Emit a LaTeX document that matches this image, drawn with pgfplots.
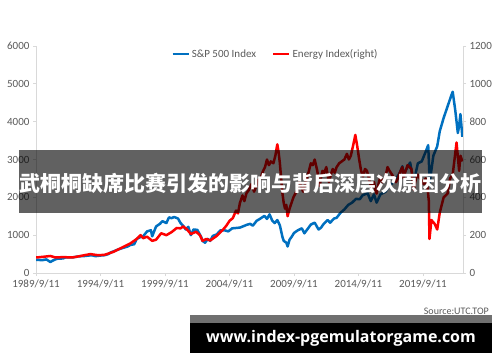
\documentclass[border=0pt]{standalone}
\usepackage{pgfplots}
\pgfplotsset{compat=1.18}
\usepackage{fontspec}
\setmainfont{Carlito}
\newfontfamily\cjk{Noto Sans CJK SC}
\newfontfamily\urlfont{Open Sans}
\definecolor{spblue}{RGB}{0,112,192}
\definecolor{enred}{RGB}{255,0,0}
\definecolor{axgray}{RGB}{217,217,217}
\definecolor{lblgray}{RGB}{89,89,89}
\definecolor{bargray}{RGB}{112,112,112}
\begin{document}
\begin{tikzpicture}[x=1pt,y=1pt]
\path[use as bounding box] (0,0) rectangle (500,362);
\pgfplotsset{mybase/.style={scale only axis, width=427pt, height=227pt,
  at={(36pt,89pt)}, anchor=south west, xmin=1989.69, xmax=2022.8, ymin=0,
  tick label style={font=\fontsize{11}{13}\selectfont, text=lblgray},
  /pgf/number format/assume math mode=true, /pgf/number format/1000 sep={},
  axis line style={axgray, line width=0.8pt}, tick style={axgray, line width=0.8pt},
  major tick length=3pt, tick align=outside}}
\begin{axis}[mybase, axis x line*=bottom, axis y line*=left, ymax=6000,
  ytick={0,1000,2000,3000,4000,5000,6000},
  xtick={1989.693,1994.693,1999.693,2004.693,2009.693,2014.693,2019.693},
  xticklabels={1989/9/11,1994/9/11,1999/9/11,2004/9/11,2009/9/11,2014/9/11,2019/9/11}]
\addplot[spblue, line width=2.5pt, line join=round] table {
1989.7 350
1989.9 345
1990.2 340
1990.5 360
1990.8 290
1991.0 330
1991.3 375
1991.5 380
1991.8 385
1992.0 415
1992.5 410
1993.0 440
1993.5 450
1994.0 470
1994.3 445
1994.7 462
1995.0 470
1995.3 500
1995.5 545
1995.8 585
1996.0 615
1996.5 670
1996.8 700
1997.0 740
1997.3 760
1997.5 900
1997.8 950
1998.0 970
1998.3 1100
1998.6 1130
1998.7 970
1999.0 1230
1999.3 1300
1999.5 1370
1999.8 1320
2000.0 1470
2000.2 1450
2000.4 1480
2000.7 1440
2000.9 1320
2001.1 1250
2001.3 1150
2001.5 1220
2001.7 1000
2001.9 1150
2002.2 1140
2002.5 950
2002.6 850
2002.8 800
2003.0 900
2003.2 850
2003.4 980
2003.7 1020
2004.0 1130
2004.3 1130
2004.6 1100
2004.9 1180
2005.2 1190
2005.5 1200
2005.8 1240
2006.0 1270
2006.3 1300
2006.5 1250
2006.8 1380
2007.0 1420
2007.4 1510
2007.6 1430
2007.8 1550
2008.0 1390
2008.2 1320
2008.4 1400
2008.6 1260
2008.8 950
2008.9 850
2009.1 800
2009.2 700
2009.35 880
2009.5 950
2009.7 1060
2010.0 1130
2010.3 1180
2010.5 1050
2010.7 1140
2011.0 1280
2011.3 1330
2011.6 1150
2011.8 1200
2012.0 1300
2012.3 1400
2012.5 1330
2012.8 1440
2013.0 1460
2013.3 1590
2013.6 1680
2013.9 1800
2014.2 1860
2014.5 1960
2014.8 1950
2015.0 2050
2015.4 2110
2015.65 1900
2015.9 2080
2016.1 1860
2016.4 2080
2016.8 2150
2017.0 2270
2017.5 2430
2017.9 2650
2018.1 2820
2018.2 2620
2018.7 2920
2018.98 2400
2019.3 2900
2019.6 2950
2019.9 3200
2020.1 3380
2020.22 2400
2020.5 3100
2020.8 3350
2021.0 3750
2021.3 4100
2021.6 4400
2021.9 4700
2022.0 4790
2022.2 4300
2022.4 3700
2022.5 3900
2022.6 4200
2022.75 3600
};
\end{axis}
\begin{axis}[mybase, axis y line*=right, axis x line=none, ymax=1200,
  ytick={0,200,400,600,800,1000,1200}, xtick=\empty,
  legend style={at={(0.561,0.965)}, anchor=center, draw=none, fill=none,
    legend columns=2, font=\fontsize{11}{13}\selectfont, text=lblgray,
    /tikz/every even column/.append style={column sep=14pt}},
  legend image code/.code={\draw[#1] (0pt,0pt) -- (16pt,0pt);}]
\addlegendimage{spblue, line width=2.2pt}
\addlegendentry{S\&P 500 Index}
\addplot[enred, line width=2.5pt, line join=round] table {
1989.7 82
1990.3 86
1990.8 90
1991.2 82
1991.8 84
1992.5 82
1993.0 88
1993.9 100
1994.5 94
1995.0 96
1995.7 112
1996.4 136
1997.0 156
1997.5 180
1997.8 200
1998.0 184
1998.3 192
1998.7 170
1999.0 176
1999.4 210
1999.8 200
2000.2 216
2000.6 238
2000.9 236
2001.1 246
2001.4 230
2001.7 206
2002.1 218
2002.4 200
2002.6 170
2002.9 180
2003.2 172
2003.7 196
2004.2 230
2004.45 250
2004.7 276
2004.95 290
2005.2 330
2005.35 315
2005.5 370
2005.7 410
2005.85 380
2006.0 420
2006.2 440
2006.4 470
2006.6 430
2006.75 455
2006.9 490
2007.1 500
2007.3 540
2007.45 560
2007.6 600
2007.75 570
2007.9 590
2008.1 580
2008.25 620
2008.4 680
2008.5 640
2008.6 580
2008.7 500
2008.8 420
2008.9 370
2009.0 340
2009.1 360
2009.2 300
2009.35 340
2009.5 370
2009.65 400
2009.8 420
2009.95 440
2010.1 480
2010.25 460
2010.4 430
2010.55 470
2010.7 500
2010.85 540
2011.0 580
2011.15 570
2011.3 600
2011.5 540
2011.7 460
2011.8 510
2011.9 540
2012.05 530
2012.2 560
2012.3 520
2012.4 480
2012.55 520
2012.7 550
2012.85 530
2013.0 560
2013.2 580
2013.4 590
2013.6 600
2013.8 630
2013.95 600
2014.1 620
2014.3 680
2014.45 730
2014.6 670
2014.75 600
2014.9 540
2015.05 510
2015.2 550
2015.35 540
2015.5 500
2015.7 450
2015.8 470
2015.9 480
2016.0 440
2016.1 420
2016.25 470
2016.4 510
2016.55 480
2016.7 490
2016.85 530
2016.95 560
2017.1 540
2017.3 520
2017.45 500
2017.6 480
2017.75 500
2017.9 530
2018.1 560
2018.2 500
2018.35 540
2018.5 570
2018.65 560
2018.8 550
2018.9 490
2018.98 440
2019.15 500
2019.3 520
2019.45 500
2019.6 490
2019.75 470
2019.9 500
2020.05 450
2020.15 380
2020.2 180
2020.35 280
2020.6 260
2020.8 230
2021.0 320
2021.3 400
2021.6 420
2021.8 500
2022.0 520
2022.3 690
2022.5 540
2022.6 620
2022.75 590
};
\addlegendentry{Energy Index(right)}
\end{axis}
\fill[black, opacity=0.62] (19,149) rectangle (482,212);
\node[text=white, font=\cjk\bfseries\fontsize{21}{24}\selectfont, inner sep=0pt] at (250,179) {武桐桐缺席比赛引发的影响与背后深层次原因分析};
\node[text=lblgray, font=\fontsize{10}{12}\selectfont, inner sep=0pt, anchor=east] at (489,51) {Source:UTC.TOP};
\fill[bargray] (190,39) rectangle (492,47);
\fill[black] (190,9) rectangle (492,39);
\node[text=white, font=\urlfont\bfseries\fontsize{16}{19}\selectfont, inner sep=0pt] at (341,24) {www.index-pgemulatorgame.com};
\end{tikzpicture}
\end{document}
